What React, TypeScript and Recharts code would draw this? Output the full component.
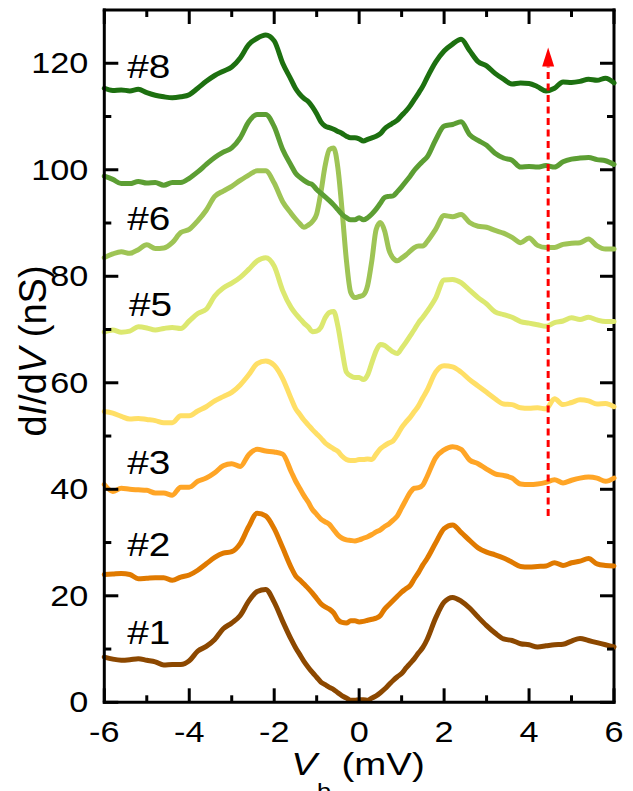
import React from "react";
import {
  LineChart, Line, XAxis, YAxis, ReferenceLine, ReferenceDot,
} from "recharts";

const FONT = '"Liberation Sans", Arial, Helvetica, sans-serif';

// bias voltage (mV) sample points
const V = [
  -6, -5.8, -5.6, -5.4, -5.2, -5, -4.8, -4.6, -4.4, -4.2, -4, -3.8, -3.6, -3.4, -3.2, -3, -2.8, -2.6, -2.4, -2.2, -2, -1.8, -1.6,
  -1.5, -1.4, -1.3, -1.2, -1.1, -1, -0.9, -0.8, -0.7, -0.6, -0.5, -0.4, -0.3, -0.2, -0.1, 0, 0.1, 0.2, 0.3, 0.4, 0.5, 0.6, 0.7, 0.8, 0.9, 1, 1.1, 1.2, 1.3, 1.4, 1.5,
  1.6, 1.8, 2, 2.2, 2.4, 2.6, 2.8, 3, 3.2, 3.4, 3.6, 3.8, 4, 4.2, 4.4, 4.6, 4.8, 5, 5.2, 5.4, 5.6, 5.8, 6,
];

// dI/dV (nS), offset curves #1 .. #8
const S1 = [
  8.5, 8.1, 7.9, 8.0, 8.2, 7.9, 7.6, 7.0, 7.1, 7.1, 7.8, 9.6, 10.5, 11.8, 13.8, 14.9, 16.3, 19.0, 20.8, 21.2, 18.8, 15.2, 11.8,
  10.3, 9.0, 7.7, 6.6, 5.6, 4.7, 3.8, 3.3, 2.8, 2.4, 1.8, 1.2, 0.8, 0.4, 0.4, 0.5, 0.5, 0.4, 0.8, 1.2, 1.8, 2.5, 3.3, 4.1, 4.8, 5.4, 6.4, 7.3, 8.2, 9.3, 10.3,
  11.8, 15.8, 18.8, 19.7, 19.0, 17.7, 16.0, 14.4, 13.0, 11.9, 11.6, 11.0, 10.8, 10.4, 10.6, 10.8, 10.9, 11.5, 12.0, 11.6, 11.2, 10.8, 10.4,
];
const S2 = [
  24.0, 24.1, 24.2, 24.0, 23.2, 23.3, 23.4, 23.4, 22.9, 23.5, 23.9, 24.8, 26.0, 27.2, 28.0, 28.3, 29.8, 33.0, 35.5, 35.0, 32.6, 29.0, 25.3,
  23.8, 23.0, 22.2, 21.4, 20.5, 19.5, 18.5, 17.9, 17.5, 16.8, 15.5, 15.0, 14.9, 15.3, 15.3, 15.1, 15.2, 15.4, 15.6, 15.8, 16.3, 17.5, 18.3, 19.1, 19.9, 20.7, 21.3, 21.9, 23.2, 24.4, 25.8,
  27.0, 29.9, 32.6, 33.3, 31.9, 30.4, 29.0, 28.2, 27.7, 27.1, 26.3, 25.5, 25.4, 25.5, 25.6, 26.2, 25.7, 26.2, 26.5, 27.0, 26.0, 25.7, 25.6,
];
const S3 = [
  40.9, 39.6, 40.2, 40.0, 39.9, 39.8, 39.3, 39.3, 38.9, 40.4, 40.4, 41.5, 42.1, 43.1, 44.4, 44.8, 44.3, 46.5, 47.5, 47.2, 47.0, 46.6, 43.3,
  41.6, 40.2, 38.8, 37.6, 36.2, 35.3, 34.4, 33.9, 33.4, 32.4, 31.4, 30.8, 30.5, 30.4, 30.3, 30.5, 30.8, 31.1, 31.5, 32.0, 32.4, 33.0, 33.5, 34.2, 35.0, 36.5, 38.0, 39.4, 40.2, 40.3, 40.8,
  42.4, 45.9, 47.4, 48.0, 47.5, 45.5, 44.8, 43.8, 42.9, 42.6, 42.1, 41.0, 40.9, 41.0, 41.3, 41.8, 41.2, 41.7, 42.1, 42.3, 42.1, 41.5, 42.1,
];
const S4 = [
  54.6, 54.3, 53.7, 53.2, 53.3, 53.1, 52.9, 52.5, 52.5, 53.8, 53.8, 54.7, 55.5, 56.6, 57.4, 58.2, 59.6, 61.5, 63.6, 64.1, 63.3, 60.8, 57.0,
  55.2, 54.1, 53.0, 52.1, 51.2, 50.4, 49.6, 48.7, 48.1, 47.6, 47.1, 46.2, 45.6, 45.4, 45.4, 45.6, 45.6, 45.7, 45.6, 46.6, 47.6, 48.2, 48.7, 49.1, 50.2, 51.6, 52.6, 53.5, 54.6, 55.7, 57.2,
  58.6, 62.0, 63.2, 63.0, 62.0, 60.6, 59.4, 58.2, 57.0, 56.0, 55.9, 55.3, 55.2, 55.3, 55.1, 57.0, 55.9, 56.3, 56.8, 56.6, 56.0, 56.1, 55.5,
];
const S5 = [
  69.5, 69.9, 69.5, 69.7, 70.5, 70.3, 69.9, 70.2, 70.4, 70.2, 71.6, 73.0, 73.8, 76.3, 77.8, 78.7, 79.8, 81.3, 82.9, 83.5, 81.9, 77.3, 74.1,
  73.0, 72.1, 71.2, 70.5, 69.6, 69.7, 70.4, 72.2, 73.2, 73.4, 70.6, 66.0, 62.0, 61.3, 61.0, 61.0, 60.6, 61.5, 63.8, 66.0, 67.2, 67.0, 66.4, 65.8, 65.5, 66.5, 67.6, 68.8, 70.0, 71.3, 72.3,
  73.4, 75.9, 79.3, 79.4, 78.8, 77.4, 76.0, 74.8, 73.3, 72.8, 72.3, 71.5, 71.2, 70.9, 70.6, 71.3, 71.6, 72.2, 71.9, 72.3, 71.8, 71.5, 71.5,
];
const S6 = [
  83.5, 84.2, 84.6, 84.3, 85.0, 85.9, 85.2, 85.3, 86.3, 88.2, 88.8, 90.4, 92.4, 95.0, 96.0, 96.9, 98.0, 99.0, 99.8, 99.8, 97.5, 94.0, 91.8,
  90.8, 89.9, 89.2, 89.6, 90.3, 91.7, 95.8, 100.8, 103.8, 104.1, 100.3, 92.2, 83.0, 77.0, 76.0, 76.2, 76.5, 78.3, 83.0, 88.8, 90.1, 88.5, 85.0, 83.4, 82.9, 83.4, 84.0, 84.7, 85.4, 85.7, 85.7,
  86.5, 88.8, 91.4, 91.2, 91.6, 90.1, 89.4, 89.2, 88.6, 88.1, 87.3, 86.3, 87.2, 85.8, 85.4, 85.4, 86.0, 86.2, 86.3, 87.0, 85.7, 85.1, 85.1,
];
const S7 = [
  98.8, 98.2, 97.4, 97.4, 97.8, 97.5, 97.6, 97.1, 97.6, 97.6, 98.4, 99.6, 101.0, 102.3, 103.3, 104.1, 106.0, 109.0, 110.4, 110.4, 108.1, 103.8, 100.8,
  99.4, 98.6, 98.0, 97.5, 97.2, 96.3, 95.6, 94.9, 94.2, 93.4, 92.5, 91.6, 91.0, 90.6, 90.6, 91.0, 90.6, 91.0, 91.7, 92.6, 93.7, 94.8, 95.0, 95.1, 95.9, 96.8, 97.8, 98.8, 99.9, 100.8, 101.6,
  102.4, 105.6, 108.2, 108.5, 109.0, 106.6, 105.5, 104.6, 103.1, 102.2, 101.8, 100.5, 100.6, 100.5, 100.8, 100.5, 101.5, 102.0, 102.2, 102.3, 101.9, 101.7, 101.0,
];
const S8 = [
  115.3, 114.9, 115.0, 114.8, 115.1, 114.5, 114.0, 113.7, 113.5, 113.7, 114.1, 115.3, 116.6, 117.7, 118.5, 119.3, 121.0, 123.5, 124.7, 125.3, 124.2, 120.0, 116.9,
  115.3, 114.2, 113.4, 112.8, 111.8, 110.5, 109.0, 108.2, 107.9, 107.6, 107.2, 106.8, 106.3, 106.0, 106.0, 105.8, 105.4, 105.7, 106.0, 106.3, 106.8, 107.7, 108.3, 108.8, 109.3, 110.2, 111.0, 112.0, 113.2, 114.4, 115.7,
  117.3, 120.2, 122.3, 123.6, 124.5, 122.4, 120.3, 119.5, 118.1, 117.0, 116.1, 116.3, 116.2, 115.6, 114.8, 115.3, 116.5, 116.4, 116.6, 117.0, 116.8, 117.2, 116.3,
];

const SERIES = [S1, S2, S3, S4, S5, S6, S7, S8];
const COLORS = ["#8c4800", "#e07a00", "#ffa526", "#ffdf66", "#dce870", "#9ec455", "#5c9e33", "#1d7010"];

// curve labels: text, left edge (mV), baseline (nS)
const LABEL_TEXT = ["#8", "#6", "#5", "#3", "#2", "#1"];
const LABEL_X = [-5.46, -5.46, -5.42, -5.46, -5.46, -5.46];
const LABEL_Y = [117.2, 88.6, 72.6, 42.9, 27.4, 11.0];

const X_MIN = -6;
const X_MAX = 6;
const Y_MIN = 0;
const Y_MAX = 130;
const X_TICKS = [-6, -5, -4, -3, -2, -1, 0, 1, 2, 3, 4, 5, 6];
const Y_TICKS = [0, 10, 20, 30, 40, 50, 60, 70, 80, 90, 100, 110, 120];

// red arrow (mV, nS)
const ARROW_X = 4.45;
const ARROW_FROM = 35;
const ARROW_TO = 119.4;

const data = V.map((v, i) => {
  const row: Record<string, number> = { v };
  SERIES.forEach((s, k) => { row[`s${k + 1}`] = s[i]; });
  return row;
});

// chart frame
const W = 633, H = 791;
const M = { top: 10, right: 19, left: 0, bottom: 0 };
const Y_AXIS_W = 104.3;
const X_AXIS_H = 88.7;
const PL = M.left + Y_AXIS_W, PR = W - M.right, PT = M.top, PB = H - M.bottom - X_AXIS_H;
const sx = (v: number) => PL + ((v - X_MIN) / (X_MAX - X_MIN)) * (PR - PL);
const sy = (v: number) => PB - ((v - Y_MIN) / (Y_MAX - Y_MIN)) * (PB - PT);

function BottomTick(props: any) {
  const { x, y, payload } = props;
  const v = payload.value;
  if (v % 2 !== 0) return <g />;
  return (
    <text transform={`translate(${x},${y + 30}) scale(1.18,1)`} textAnchor="middle"
      dominantBaseline="central" fontSize={29} fontFamily={FONT} fill="#000">{v}</text>
  );
}

function LeftTick(props: any) {
  const { x, y, payload } = props;
  const v = payload.value;
  if (v % 20 !== 0) return <g />;
  return (
    <text transform={`translate(${x - 16},${y}) scale(1.18,1)`} textAnchor="end"
      dominantBaseline="central" fontSize={29} fontFamily={FONT} fill="#000">{v}</text>
  );
}

// inward ticks on all four sides of the frame
function TickMarks() {
  return (
    <svg width={W} height={H} style={{ position: "absolute", left: 0, top: 0, pointerEvents: "none" }}>
      <g stroke="#000" strokeWidth={3}>
        {X_TICKS.map((v) => {
          const len = v % 2 === 0 ? 14 : 7;
          const x = sx(v);
          return (
            <g key={`x${v}`}>
              <line x1={x} x2={x} y1={PB} y2={PB - len} />
              <line x1={x} x2={x} y1={PT} y2={PT + len} />
            </g>
          );
        })}
        {Y_TICKS.map((v) => {
          const len = v % 20 === 0 ? 14 : 7;
          const y = sy(v);
          return (
            <g key={`y${v}`}>
              <line x1={PL} x2={PL + len} y1={y} y2={y} />
              <line x1={PR} x2={PR - len} y1={y} y2={y} />
            </g>
          );
        })}
      </g>
    </svg>
  );
}

const axisLine = { stroke: "#000", strokeWidth: 3, strokeLinecap: "square" as const };

export default function App() {
  return (
    <div style={{ position: "absolute", left: 0, top: 0, width: W, height: H, background: "#fff" }}>
      <LineChart width={W} height={H} data={data} margin={M}>
        <XAxis dataKey="v" type="number" domain={[X_MIN, X_MAX]} ticks={X_TICKS} interval={0}
          tickSize={0} tickMargin={0} tickLine={false} tick={<BottomTick />} axisLine={axisLine}
          height={X_AXIS_H}
          label={{
            content: () => (
              <text transform="translate(358,775) scale(1.2,1)" textAnchor="middle"
                fontSize={32} fontFamily={FONT} fill="#000">
                <tspan fontStyle="italic">V</tspan>
                <tspan fontSize={21} dy={23}>b</tspan>
                <tspan dy={-23}> (mV)</tspan>
              </text>
            ),
          }} />
        <YAxis type="number" domain={[Y_MIN, Y_MAX]} ticks={Y_TICKS} interval={0}
          tickSize={0} tickMargin={0} tickLine={false} tick={<LeftTick />} axisLine={axisLine}
          width={Y_AXIS_W}
          label={{
            content: () => (
              <text transform="translate(46,351) rotate(-90)" textAnchor="middle"
                fontSize={38} fontFamily={FONT} fill="#000">
                d<tspan fontStyle="italic">I</tspan>/d<tspan fontStyle="italic">V</tspan> (nS)
              </text>
            ),
          }} />

        {/* top and right frame lines */}
        <ReferenceLine y={Y_MAX} stroke="#000" strokeWidth={3} strokeLinecap="square" ifOverflow="visible" />
        <ReferenceLine x={X_MAX} stroke="#000" strokeWidth={3} strokeLinecap="square" ifOverflow="visible" />

        {SERIES.map((_, k) => (
          <Line key={k} dataKey={`s${k + 1}`} type="monotone" stroke={COLORS[k]} strokeWidth={5}
            strokeLinejoin="round" strokeLinecap="round" dot={false} activeDot={false}
            isAnimationActive={false} />
        ))}

        <ReferenceLine segment={[{ x: ARROW_X, y: ARROW_FROM }, { x: ARROW_X, y: ARROW_TO }]}
          stroke="#ff0000" strokeWidth={3} strokeDasharray="7 4.5" />
        <ReferenceDot x={ARROW_X} y={ARROW_TO} r={0}
          shape={(p: any) => (
            <polygon points={`${p.cx - 6},${p.cy} ${p.cx + 6},${p.cy} ${p.cx},${p.cy - 19}`} fill="#ff0000" />
          )} />

        {LABEL_TEXT.map((t, i) => (
          <ReferenceDot key={t} x={LABEL_X[i]} y={LABEL_Y[i]} r={0}
            shape={(p: any) => (
              <text transform={`translate(${p.cx},${p.cy}) scale(1.14,1)`} fontSize={34}
                fontFamily={FONT} fill="#000">{t}</text>
            )} />
        ))}
      </LineChart>
      <TickMarks />
    </div>
  );
}
